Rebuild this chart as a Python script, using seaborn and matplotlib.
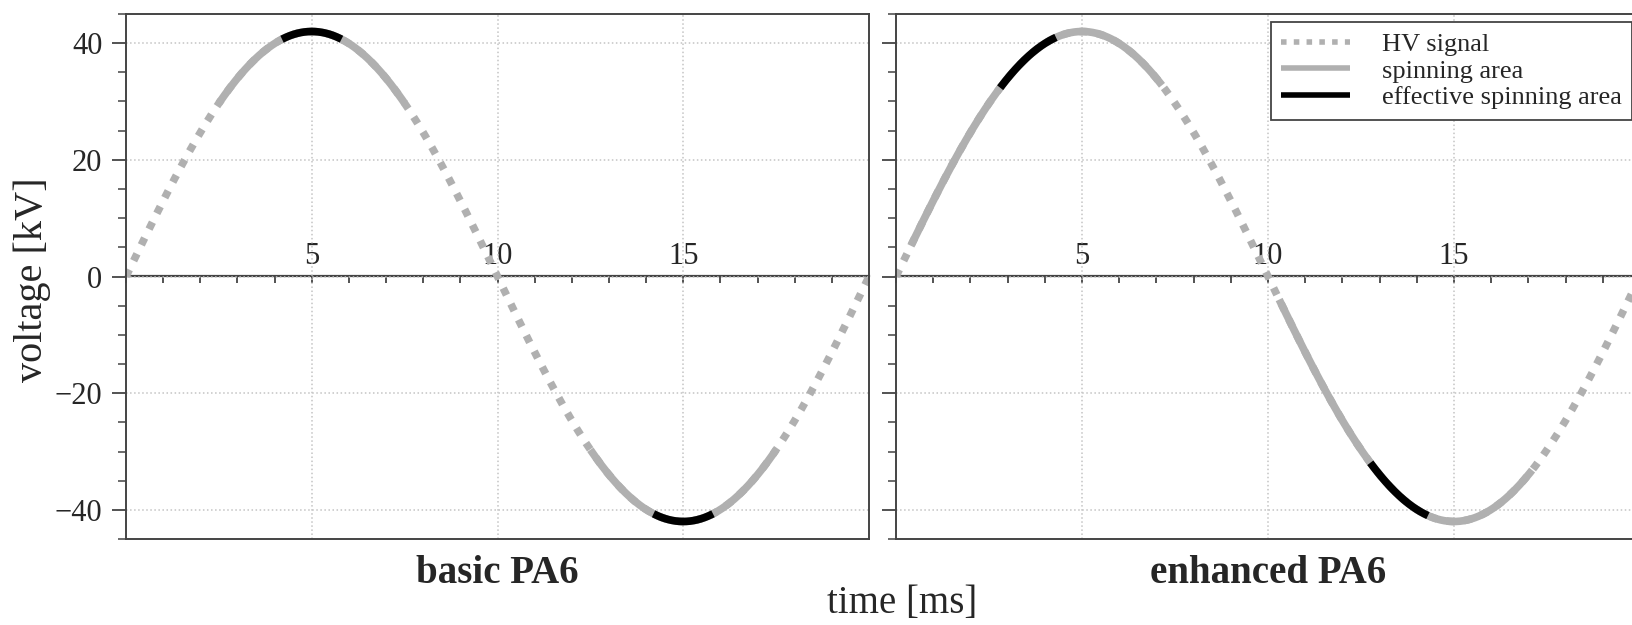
import numpy as np
import pandas as pd
import seaborn as sns
import matplotlib

matplotlib.use("Agg")
import matplotlib.pyplot as plt
from matplotlib.lines import Line2D
from matplotlib.ticker import MultipleLocator

# signal parameters
AMPLITUDE_KV = 42.0
PERIOD_MS = 20.0
TIME_RANGE_MS = (0.0, 20.0)

PANELS = ["basic PA6", "enhanced PA6"]
SPIN_WINDOWS = {
    "basic PA6": [(2.5, 7.5), (12.5, 17.5)],
    "enhanced PA6": [(0.4, 7.15), (10.3, 17.1)],
}
EFFECTIVE_WINDOWS = {
    "basic PA6": [(4.2, 5.8), (14.2, 15.8)],
    "enhanced PA6": [(2.8, 4.3), (12.75, 14.3)],
}
LEGEND_LABELS = ["HV signal", "spinning area", "effective spinning area"]
X_TICKS = [5, 10, 15]
Y_TICKS = [-40, -20, 0, 20, 40]

GRAY = "#b0b0b0"
BLACK = "#000000"
FRAME = "#444444"
LW = 5.5
DOTTED = (0, (1.0, 1.3))

sns.set_theme(style="ticks")
plt.rcParams["font.family"] = ["Liberation Serif", "DejaVu Serif"]
plt.rcParams["mathtext.fontset"] = "dejavuserif"


def hv_segment(t0: float, t1: float) -> pd.DataFrame:
    t = np.linspace(t0, t1, 200)
    v = AMPLITUDE_KV * np.sin(2.0 * np.pi * t / PERIOD_MS)
    return pd.DataFrame({"time_ms": t, "voltage_kv": v})


def draw(ax, df, color, style):
    sns.lineplot(
        data=df, x="time_ms", y="voltage_kv", ax=ax, color=color, linewidth=LW,
        linestyle=style, solid_capstyle="butt", dash_capstyle="butt", legend=False,
    )


def main() -> None:
    fig = plt.figure(figsize=(16.32, 6.25), dpi=100)
    W, H = 1632.0, 625.0
    ax1 = fig.add_axes([126 / W, 86 / H, 743 / W, 525 / H])
    ax2 = fig.add_axes([896 / W, 86 / H, 744 / W, 525 / H], sharey=ax1)

    for ax, name in zip([ax1, ax2], PANELS):
        draw(ax, hv_segment(*TIME_RANGE_MS), GRAY, DOTTED)
        for seg in SPIN_WINDOWS[name]:
            draw(ax, hv_segment(*seg), GRAY, "-")
        for seg in EFFECTIVE_WINDOWS[name]:
            draw(ax, hv_segment(*seg), BLACK, "-")

        ax.set_xlim(*TIME_RANGE_MS)
        ax.set_ylim(-45, 45)
        ax.set_xlabel("")
        ax.set_ylabel("")
        ax.set_xticks(X_TICKS)
        ax.set_yticks(Y_TICKS)
        ax.yaxis.set_minor_locator(MultipleLocator(5))
        ax.tick_params(axis="x", which="both", bottom=False, labelbottom=False)
        ax.tick_params(axis="y", which="major", direction="out", length=10, width=1.3,
                       color=FRAME, labelsize=22, pad=7)
        ax.tick_params(axis="y", which="minor", direction="out", length=5.5, width=1.1, color=FRAME)
        ax.grid(True, which="major", linestyle=":", linewidth=1.1, color="#c4c4c4")
        for sp in ax.spines.values():
            sp.set_visible(True)
            sp.set_color(FRAME)
            sp.set_linewidth(1.4)

        # zero axis carrying the time ticks
        sec = ax.secondary_xaxis(0.5)
        sec.set_xticks(X_TICKS)
        sec.xaxis.set_minor_locator(MultipleLocator(1))
        sec.tick_params(axis="x", which="both", direction="in", length=5, width=1.3,
                        color=FRAME, labelsize=22, pad=4)
        sec.spines["top"].set_color(FRAME)
        sec.spines["top"].set_linewidth(1.6)

        ax.text(0.5, -0.065, name, transform=ax.transAxes, ha="center", va="center",
                fontsize=28, fontweight="bold")

    ax2.tick_params(axis="y", which="both", labelleft=False)

    handles = [
        Line2D([], [], color=GRAY, linewidth=4, linestyle=DOTTED, dash_capstyle="butt"),
        Line2D([], [], color=GRAY, linewidth=4, solid_capstyle="butt"),
        Line2D([], [], color=BLACK, linewidth=4, solid_capstyle="butt"),
    ]
    leg = ax2.legend(
        handles, LEGEND_LABELS, loc="upper right", fontsize=19, frameon=True, fancybox=False,
        edgecolor=FRAME, framealpha=1.0, borderaxespad=0.3, borderpad=0.4,
        handlelength=2.6, handletextpad=1.2, labelspacing=0.12,
    )
    leg.get_frame().set_linewidth(1.3)

    fig.text(32 / W, 1 - 280 / H, "voltage [kV]", rotation=90, ha="center", va="center", fontsize=29)
    fig.text(902 / W, 1 - 604 / H, "time [ms]", ha="center", va="center", fontsize=28)

    fig.savefig("out.png", dpi=100)
    plt.close(fig)


if __name__ == "__main__":
    main()
